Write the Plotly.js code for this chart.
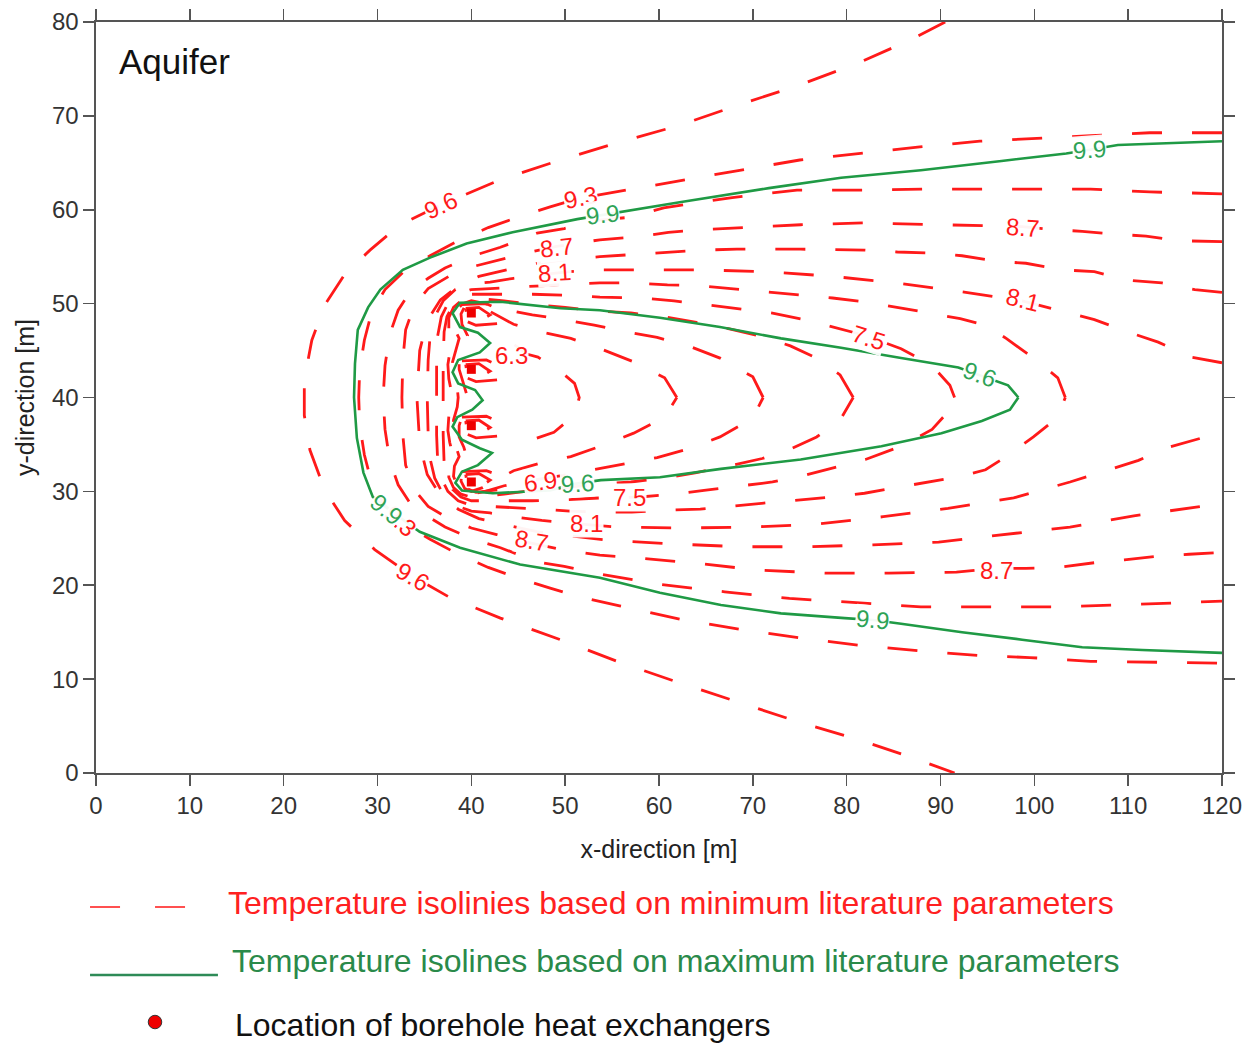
<!DOCTYPE html>
<html>
<head>
<meta charset="utf-8">
<script src="https://cdn.plot.ly/plotly-3.0.1.min.js"></script>
<style>html,body{margin:0;padding:0;background:#fff;}#chart{width:1245px;height:1043px;}</style>
</head>
<body>
<div id="chart"></div>
<script>
// ---- Isolines based on minimum literature parameters (red, dashed) : [x, y] in metres ----
const iso_min_9_6 = [[90.5,80.0],[86.8,78.1],[81.4,75.7],[75.0,73.3],[68.6,71.2],[62.2,69.0],[55.8,67.2],[49.5,65.3],[43.1,63.2],[36.7,60.5],[32.4,58.4],[29.2,55.7],[26.5,53.1],[24.4,49.9],[23.0,46.1],[22.2,41.9],[22.2,38.1],[22.8,34.4],[24.4,30.1],[26.5,26.9],[29.7,23.8],[33.5,21.1],[37.7,18.7],[43.1,16.5],[49.5,14.2],[55.8,11.8],[62.2,9.6],[68.6,7.5],[75.0,5.4],[81.4,3.5],[86.8,1.7],[91.5,0.0]];
const iso_min_9_3 = [[120,68.2],[112.3,68.2],[106,67.9],[99.5,67.6],[94.2,67.3],[87.8,66.7],[81.4,66.0],[75,65.3],[68.6,64.2],[62.2,63.1],[55.8,62.0],[51.4,61.2],[48.4,60.3],[45.2,59.3],[41.8,58.1],[38.8,56.8],[35.6,55.1],[32.9,53.5],[30.8,51.5],[29.4,49.2],[28.6,46.1],[28.1,42.9],[28.0,40.0],[28.1,37.1],[28.6,33.9],[29.4,30.8],[30.8,28.5],[32.9,26.5],[35.6,24.9],[38.8,23.2],[41.8,21.9],[45.2,20.7],[48.4,19.7],[51.4,18.8],[55.8,17.8],[62.2,16.4],[68.6,15.3],[75,14.4],[81.4,13.6],[87.8,13.0],[94.2,12.5],[99.5,12.3],[106,11.9],[112.3,11.8],[120,11.7]];
const iso_min_9_0 = [[120,61.7],[112.3,61.9],[106,62.2],[98.5,62.2],[88.8,62.2],[81.9,62.1],[74.7,62.1],[67.8,61.3],[64.4,60.8],[60.5,60.2],[56.9,59.2],[53.7,58.9],[49.9,58.0],[47,57.5],[43.1,56.0],[40.2,55.1],[37.2,53.8],[35.4,52.7],[33.5,51.3],[32.2,49.3],[31.3,46.7],[30.8,43.4],[30.6,40.0],[30.8,36.6],[31.3,33.3],[32.2,30.7],[33.5,28.7],[35.4,27.3],[37.2,26.2],[40.2,24.9],[43.1,24.0],[47,22.5],[49.9,22.0],[53.7,21.2],[60.1,20.1],[67,19.3],[73.9,18.6],[81.1,18.1],[87.9,17.7],[94.9,17.7],[102.1,17.7],[108.9,17.9],[116.3,18.2],[120,18.3]];
const iso_min_8_7 = [[120,56.6],[115.4,56.7],[111.9,57.2],[108.5,57.4],[105.1,57.7],[101.7,57.9],[98.7,58.2],[94.8,58.3],[88.8,58.5],[81.9,58.6],[75.1,58.4],[68.3,58.1],[64.8,57.9],[61.0,57.6],[57.6,57.1],[53.7,56.8],[49.1,56.1],[45.9,55.4],[42.7,54.6],[40,53.9],[37.6,52.9],[35.4,51.6],[33.9,49.8],[33.0,47.2],[32.7,44.0],[32.6,40.0],[32.7,36.0],[33.0,32.8],[33.9,30.2],[35.4,28.4],[37.6,27.1],[40,26.1],[42.7,25.4],[45.9,24.6],[49.1,23.9],[53.7,23.2],[56.5,23.0],[63.5,22.4],[70.7,21.6],[77.7,21.3],[84.5,21.3],[91.7,21.4],[95.9,21.8],[99.1,21.8],[102.5,21.9],[106.4,22.4],[109.6,22.7],[113.2,23.1],[116.5,23.3],[120,23.5]];
const iso_min_8_4 = [[120,51.2],[117.1,51.5],[113.6,52.2],[109.8,52.5],[106.4,53.4],[103,53.6],[99.1,54.3],[96.1,54.5],[92.3,55.1],[88.8,55.4],[85.4,55.5],[81.9,55.7],[75.1,55.8],[68.3,55.8],[64.4,55.7],[61.0,55.5],[57.1,55.2],[53.7,55.0],[50.2,54.7],[47,54.3],[43.8,53.6],[40.8,52.9],[38.6,51.9],[36.7,50.4],[35.3,48.2],[34.5,45.0],[34.2,40.0],[34.5,35.0],[35.3,31.8],[36.7,29.6],[38.6,28.1],[40.8,27.1],[43.8,26.4],[47,25.7],[50.2,25.3],[54.6,24.8],[61.6,24.4],[68.7,24.1],[75.8,24.1],[82.8,24.3],[89.8,24.6],[96.8,25.4],[103.8,26.2],[110.6,27.4],[118,28.4],[120,28.7]];
const iso_min_8_1 = [[120,43.7],[116.7,44.3],[113.2,45.9],[110.2,46.9],[106.4,48.3],[103.8,49.0],[98.7,50.3],[92.7,51.2],[85.4,52.2],[78.5,52.9],[71.7,53.4],[64.4,53.6],[57.6,53.6],[53.7,53.6],[50.5,53.4],[47.5,53.1],[44.5,52.7],[42,52.3],[40,52.1],[38.3,51.5],[37,50.3],[36.1,48.6],[35.6,46.5],[35.4,44],[35.3,40],[35.4,36],[35.6,33.5],[36.1,31.4],[37,29.7],[38.3,28.5],[40,27.9],[42,27.7],[44.5,27.3],[47.5,26.9],[50.5,26.6],[55.4,26.2],[62.7,26.1],[69.8,26.2],[76.8,26.5],[83.9,27.3],[90.8,28.2],[97.8,29.3],[103.8,31.0],[107.4,32.1],[111.1,33.3],[114,34.6],[117.8,35.7],[120,36.3]];
const iso_min_7_8 = [[103.3,40],[102.5,42.1],[99.9,44.2],[97,46.3],[94.8,47.7],[92.1,48.4],[88.8,49.0],[85.3,49.6],[81.9,50.2],[78.5,50.6],[75.1,50.9],[71.7,51.2],[67.9,51.6],[64.4,51.9],[60.9,52.0],[57.1,52.2],[53.7,52.2],[50.5,52.1],[47.5,51.9],[44.5,51.7],[42,51.6],[40,51.5],[38.6,51.0],[37.5,50.0],[36.8,48.6],[36.4,46.5],[36.3,44],[36.3,40],[36.3,36],[36.4,33.5],[36.8,31.4],[37.5,30.0],[38.6,29.0],[40,28.5],[42,28.4],[44.5,28.3],[47.5,28.1],[50.5,27.9],[53.7,27.8],[57.1,27.8],[60.9,28.0],[64.4,28.1],[67.9,28.4],[71.7,28.8],[75.1,29.1],[78.5,29.4],[81.9,29.8],[85.3,30.4],[88.8,31.0],[92.1,31.6],[94.8,32.3],[97,33.7],[99.9,35.8],[102.5,37.9],[103.3,40]];
const iso_min_7_5 = [[91.5,40],[91.0,41.3],[89.1,43.4],[85.8,45.2],[82.0,46.6],[78.5,47.5],[75.5,48.3],[72.1,49.0],[68.7,49.4],[64.8,49.9],[61.6,50.3],[58.0,50.6],[53.7,50.7],[50,50.9],[46.5,51.0],[43.5,51.0],[41.5,51.0],[40,51.0],[38.9,50.6],[38.0,49.8],[37.4,48.6],[37.1,47],[37.0,44],[37.0,40],[37.0,36],[37.1,33],[37.4,31.4],[38.0,30.2],[38.9,29.4],[40,29.0],[41.5,29.0],[43.5,29.0],[46.5,29.0],[50,29.1],[53.7,29.3],[58.0,29.4],[61.6,29.7],[64.8,30.1],[68.7,30.6],[72.1,31.0],[75.5,31.7],[78.5,32.5],[82.0,33.4],[85.8,34.8],[89.1,36.6],[91.0,38.7],[91.5,40]];
const iso_min_7_2 = [[80.7,40],[79.3,42.4],[76.8,44.2],[74,45.5],[71,46.5],[67.5,47.3],[64,48.0],[60.5,48.6],[57,49.0],[53.7,49.2],[50,49.6],[46.5,49.9],[43.5,50.3],[41.5,50.5],[40,50.6],[38.9,50.3],[38.1,49.6],[37.6,48.5],[37.6,47.2],[38.0,46.0],[37.7,44.8],[37.5,43.5],[37.6,42],[37.9,40.5],[37.9,39.5],[37.6,38],[37.5,36.5],[37.7,35.2],[38.0,34.0],[37.6,32.8],[37.6,31.5],[38.1,30.4],[38.9,29.7],[40,29.4],[41.5,29.5],[43.5,29.7],[46.5,30.1],[50,30.4],[53.7,30.8],[57,31.0],[60.5,31.4],[64,32.0],[67.5,32.7],[71,33.5],[74,34.5],[76.8,35.8],[79.3,37.6],[80.7,40]];
const iso_min_6_9 = [[71.1,40],[70,42.2],[66.5,44.2],[63.4,45.4],[59.8,46.4],[56.5,47.0],[53.1,47.7],[49.8,48.3],[46.5,48.8],[43.5,49.4],[41.5,50.0],[40,50.3],[39.1,50.0],[38.5,49.4],[38.1,48.4],[38.2,47.3],[38.7,46.3],[38.3,45.0],[38.0,43.8],[38.1,42.4],[38.5,41.0],[38.6,40],[38.5,39.0],[38.1,37.6],[38.0,36.2],[38.3,35.0],[38.7,33.7],[38.2,32.7],[38.1,31.6],[38.5,30.6],[39.1,30.0],[40,29.7],[41.5,30.0],[43.5,30.6],[46.5,31.2],[49.8,31.7],[53.1,32.3],[56.5,33.0],[59.8,33.6],[63.4,34.6],[66.5,35.8],[70,37.8],[71.1,40]];
const iso_min_6_6 = [[61.9,40],[60.6,42.1],[57.3,43.8],[54,45.1],[50.6,46.3],[47.3,47.0],[44.5,47.8],[42.5,48.9],[41.2,49.6],[40,50.0],[39.3,49.7],[38.9,48.9],[39.0,47.8],[39.6,46.6],[39.2,45.3],[38.7,44.2],[38.7,43],[39.1,41.7],[39.6,40],[39.1,38.3],[38.7,37],[38.7,35.8],[39.2,34.7],[39.6,33.4],[39.0,32.2],[38.9,31.1],[39.3,30.3],[40,30.0],[41.2,30.4],[42.5,31.1],[44.5,32.2],[47.3,33.0],[50.6,33.7],[54,34.9],[57.3,36.2],[60.6,37.9],[61.9,40]];
const iso_min_6_3 = [[44.6,45.6],[46,44.6],[47.1,44.3],[49.6,42.7],[51.0,41.5],[51.5,40.0],[51.0,38.1],[48.8,36.3],[45.9,35.3],[44.6,34.5]];
// loops around each borehole (y = 49, 43, 37, 31)
const iso_min_6_0_bh1 = [[39.0,49.9],[41.6,50.0],[43.6,49.1],[43.0,47.9],[40.5,47.7],[39.0,48.3],[39.0,49.9]];
const iso_min_6_0_bh2 = [[39.0,43.9],[41.6,44.0],[43.6,43.1],[43.0,41.9],[40.5,41.7],[39.0,42.3],[39.0,43.9]];
const iso_min_6_0_bh3 = [[39.0,37.9],[41.6,38.0],[43.6,37.1],[43.0,35.9],[40.5,35.7],[39.0,36.3],[39.0,37.9]];
const iso_min_6_0_bh4 = [[39.0,32.1],[41.6,32.2],[43.6,31.5],[43.0,30.2],[40.5,29.9],[39.0,30.5],[39.0,32.1]];
const iso_min_5_7_bh1 = [[39.4,49.5],[40.8,49.6],[42.0,48.8],[40.8,48.1],[39.6,48.2],[39.4,49.5]];
const iso_min_5_7_bh2 = [[39.4,43.5],[40.8,43.6],[42.0,42.8],[40.8,42.1],[39.6,42.2],[39.4,43.5]];
const iso_min_5_7_bh3 = [[39.4,37.5],[40.8,37.6],[42.0,36.8],[40.8,36.1],[39.6,36.2],[39.4,37.5]];
const iso_min_5_7_bh4 = [[39.4,31.8],[40.8,31.9],[42.0,31.2],[40.8,30.4],[39.6,30.5],[39.4,31.8]];

// ---- Isolines based on maximum literature parameters (green, solid) ----
const iso_max_9_9 = [[120,67.3],[108.9,66.9],[105.9,66.4],[103.4,66.0],[96.5,65.2],[87.9,64.2],[79.4,63.4],[71.7,62.3],[62.2,60.8],[56.9,59.9],[53.4,59.3],[51.3,59.0],[44.4,57.6],[39.5,56.4],[35.6,54.9],[32.7,53.6],[30.3,51.5],[29.0,49.6],[27.9,47.2],[27.6,43.6],[27.5,40.0],[27.8,35.7],[28.5,32.0],[29.5,29.4],[31.3,28.0],[34.5,25.7],[38.8,24.0],[45.2,22.2],[53.7,20.8],[60.1,19.2],[66.6,17.9],[73,17.0],[79.8,16.5],[82.8,16.3],[85.8,15.9],[92.3,15.0],[98.7,14.2],[105.1,13.4],[111.5,13.1],[120,12.8]];
const iso_max_9_6 = [[98.3,40.0],[97.2,41.3],[94.4,42.3],[91.9,43.2],[85.8,44.2],[79.4,45.3],[73,46.3],[66.5,47.5],[60.1,48.5],[53.7,49.3],[49.5,49.5],[43.1,50.2],[38.8,50.1],[38.0,49.0],[38.8,47.5],[40.7,46.9],[42.0,45.8],[40.9,44.8],[38.6,44.0],[38.0,42.7],[38.6,41.5],[40.4,40.8],[41.2,39.7],[40.1,38.7],[38.5,37.9],[38.0,36.9],[39.0,35.5],[40.9,34.6],[42.2,34.1],[40.7,32.8],[39.0,32.1],[38.3,30.9],[39.0,30.1],[42.3,29.8],[48.4,30.1],[51.0,30.8],[53.8,31.2],[60.1,31.5],[66.6,32.4],[75.1,33.4],[83.7,34.8],[90.1,36.2],[94.4,37.5],[97.4,38.7],[98.3,40.0]];

// ---- Borehole heat exchangers ----
const boreholeX = [40, 40, 40, 40];
const boreholeY = [49, 43, 37, 31];

// ---- Contour labels ----
const redLabelText  = ['9.6','9.3','8.7','8.1','6.3','7.5','8.7','8.1','9.6','9.3','8.7','8.1','7.5','6.9','8.7'];
const redLabelX     = [36.7, 51.6, 49.1, 48.9, 44.3, 82.3, 98.7, 98.7, 33.7, 32.4, 46.4, 52.3, 56.9, 47.4, 96.0];
const redLabelY     = [60.5, 61.3, 56.0, 53.3, 44.5, 46.4, 58.1, 50.4, 20.9, 26.9, 24.8, 26.6, 29.4, 31.0, 21.6];
const redLabelAngle = [-25, -12, -6, -4, 0, 18, 4, 14, 30, 42, 10, 0, 0, -8, 0];
const greenLabelText  = ['9.9','9.9','9.6','9.6','9.9','9.9'];
const greenLabelX     = [105.9, 54.0, 94.2, 51.3, 31.0, 82.8];
const greenLabelY     = [66.4, 59.5, 42.4, 30.8, 28.1, 16.3];
const greenLabelAngle = [-4, -6, 20, -4, 40, 6];

const legendText = ['Temperature isolinies based on minimum literature parameters',
                    'Temperature isolines based on maximum literature parameters',
                    'Location of borehole heat exchangers'];

const RED = '#ff1a1a';
const GREEN = '#1f9a45';
const FONT = 'Liberation Sans, Arial, Helvetica, sans-serif';

const redLines = [iso_min_9_6, iso_min_9_3, iso_min_9_0, iso_min_8_7, iso_min_8_4, iso_min_8_1,
  iso_min_7_8, iso_min_7_5, iso_min_7_2, iso_min_6_9, iso_min_6_6, iso_min_6_3,
  iso_min_6_0_bh1, iso_min_6_0_bh2, iso_min_6_0_bh3, iso_min_6_0_bh4,
  iso_min_5_7_bh1, iso_min_5_7_bh2, iso_min_5_7_bh3, iso_min_5_7_bh4];
const greenLines = [iso_max_9_9, iso_max_9_6];

const traces = [];
redLines.forEach(pts => traces.push({
  type: 'scatter', mode: 'lines', x: pts.map(p => p[0]), y: pts.map(p => p[1]),
  line: {color: RED, width: 2.8, dash: '30px,30px'}, hoverinfo: 'skip', showlegend: false
}));
greenLines.forEach(pts => traces.push({
  type: 'scatter', mode: 'lines', x: pts.map(p => p[0]), y: pts.map(p => p[1]),
  line: {color: GREEN, width: 2.6}, hoverinfo: 'skip', showlegend: false
}));
traces.push({
  type: 'scatter', mode: 'markers', x: boreholeX, y: boreholeY,
  marker: {symbol: 'square', size: 9, color: '#ee0000'}, hoverinfo: 'skip', showlegend: false
});

const annotations = [];
redLabelText.forEach((t, i) => annotations.push({
  x: redLabelX[i], y: redLabelY[i], xref: 'x', yref: 'y', text: t, showarrow: false,
  textangle: redLabelAngle[i], font: {family: FONT, size: 24, color: RED},
  bgcolor: 'rgba(255,255,255,0.95)', borderpad: 0
}));
greenLabelText.forEach((t, i) => annotations.push({
  x: greenLabelX[i], y: greenLabelY[i], xref: 'x', yref: 'y', text: t, showarrow: false,
  textangle: greenLabelAngle[i], font: {family: FONT, size: 24, color: '#2ea356'},
  bgcolor: 'rgba(255,255,255,0.95)', borderpad: 0
}));
annotations.push({x: 0.0187, y: 0.947, xref: 'paper', yref: 'paper', text: 'Aquifer', showarrow: false,
  xanchor: 'left', yanchor: 'middle', font: {family: FONT, size: 35, color: '#111'}});
annotations.push({x: 0.1155, y: -0.1731, xref: 'paper', yref: 'paper', text: legendText[0], showarrow: false,
  xanchor: 'left', yanchor: 'middle', font: {family: FONT, size: 32, color: '#ff2020'}});
annotations.push({x: 0.1190, y: -0.2503, xref: 'paper', yref: 'paper', text: legendText[1], showarrow: false,
  xanchor: 'left', yanchor: 'middle', font: {family: FONT, size: 32, color: '#2a8a4a'}});
annotations.push({x: 0.1217, y: -0.3356, xref: 'paper', yref: 'paper', text: legendText[2], showarrow: false,
  xanchor: 'left', yanchor: 'middle', font: {family: FONT, size: 32, color: '#111'}});

const shapes = [
  {type: 'line', xref: 'paper', yref: 'paper', x0: -0.0053, x1: 0.0808, y0: -0.1784, y1: -0.1784,
   line: {color: '#ff5050', width: 2, dash: '30px,35px'}},
  {type: 'line', xref: 'paper', yref: 'paper', x0: -0.0053, x1: 0.1083, y0: -0.2690, y1: -0.2690,
   line: {color: '#2e8b57', width: 2.5}},
  {type: 'circle', xref: 'paper', yref: 'paper', x0: 0.0464, x1: 0.0584, y0: -0.3406, y1: -0.3226,
   fillcolor: '#ee0000', line: {color: '#333', width: 1}}
];

const axisCommon = {
  showgrid: false, zeroline: false, showline: true, linecolor: '#555', linewidth: 1.6,
  ticks: 'outside', ticklen: 11, tickwidth: 1.6, tickcolor: '#555', mirror: 'ticks',
  tickfont: {family: FONT, size: 24, color: '#333'}
};
const layout = {
  width: 1245, height: 1043,
  margin: {l: 96, r: 23, t: 22, b: 270},
  paper_bgcolor: '#fff', plot_bgcolor: '#fff',
  showlegend: false,
  xaxis: Object.assign({}, axisCommon, {range: [0, 120], dtick: 10, tick0: 0,
    title: {text: 'x-direction [m]', font: {family: FONT, size: 25, color: '#222'}, standoff: 22}}),
  yaxis: Object.assign({}, axisCommon, {range: [0, 80], dtick: 10, tick0: 0,
    title: {text: 'y-direction [m]', font: {family: FONT, size: 25, color: '#222'}, standoff: 10}}),
  annotations: annotations,
  shapes: shapes
};
Plotly.newPlot('chart', traces, layout, {staticPlot: true, displayModeBar: false});
</script>
</body>
</html>
